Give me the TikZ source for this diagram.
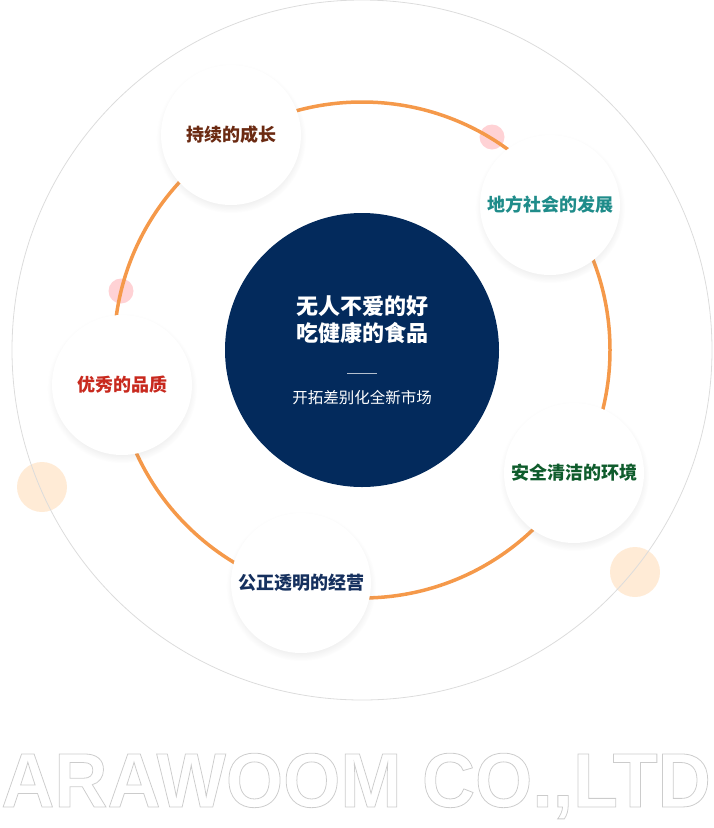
\documentclass[tikz,border=0pt]{standalone}
\usepackage{fontspec}
\setmainfont{Liberation Sans}
\newfontfamily\cjk{Noto Sans CJK SC}
\newfontfamily\logofont{Liberation Sans}
\usepackage{xcolor}
\definecolor{cNavy}{HTML}{032A5C}
\definecolor{cOrange}{HTML}{F5994A}
\definecolor{cRing}{HTML}{DCDCDC}
\definecolor{cPink}{HTML}{FFD2D5}
\definecolor{cPeach}{HTML}{FFEBD6}
\definecolor{cBrown}{HTML}{6B2A12}
\definecolor{cTeal}{HTML}{1F8C8A}
\definecolor{cRed}{HTML}{C8291E}
\definecolor{cGreen}{HTML}{0F5C2C}
\definecolor{cBlue}{HTML}{15305E}
\usetikzlibrary{shadows}
\tikzset{
  node-hub/.style={circle,fill=cNavy,minimum size=274pt,inner sep=0pt,
    align=center,text=white},
  node-value/.style={circle,fill=white,minimum size=140pt,inner sep=0pt,
    align=center,font=\cjk\bfseries\fontsize{18}{21}\selectfont,
    circular drop shadow={shadow xshift=0pt,shadow yshift=-3pt,
      shadow scale=1.07,opacity=.15}},
  dot-pink/.style={circle,fill=cPink,minimum size=25pt,inner sep=0pt},
  dot-peach/.style={circle,fill=cPeach,minimum size=50pt,inner sep=0pt},
  ring-outer/.style={draw=cRing,line width=.8pt},
  ring-path/.style={draw=cOrange,line width=3.5pt},
}
\newcommand{\outlinetext}[1]{%
  \special{pdf:literal direct 1 Tr 0.8 w 0.8 0.8 0.8 RG}#1%
  \special{pdf:literal direct 0 Tr}}

\begin{document}
\begin{tikzpicture}[x=1pt,y=-1pt]
  \useasboundingbox (0,0) rectangle (713,828);
  % 外圈与装饰点
  \coordinate (c) at (362,350);
  \node[dot-peach] (p1) at (42,487) {};
  \node[dot-peach] (p2) at (635,572) {};
  \draw[ring-outer] (c) circle[radius=350pt];
  \node[dot-pink] (k1) at (492,137) {};
  \node[dot-pink] (k2) at (121,291) {};
  \draw[ring-path] (c) circle[radius=248pt];
  % 中心
  \node[node-hub,font=\cjk\bfseries\fontsize{22}{27}\selectfont] (hub) at (c) {%
    无人不爱的好\\ 吃健康的食品\\[5pt]
    \textcolor{white!70!cNavy}{\rule{30pt}{.6pt}}\\[3pt]
    \mdseries\fontsize{15.5}{18}\selectfont 开拓差别化全新市场};
  % 五个价值
  \node[node-value,text=cBrown] (grow) at (231,135) {持续的成长};
  \node[node-value,text=cTeal]  (local) at (550,205) {地方社会的发展};
  \node[node-value,text=cRed]   (qual) at (122,385) {优秀的品质};
  \node[node-value,text=cGreen] (env) at (574,473) {安全清洁的环境};
  \node[node-value,text=cBlue]  (fair) at (301,583) {公正透明的经营};
  % 底部字标
  \node[inner sep=0pt,font=\logofont\bfseries\fontsize{77}{77}\selectfont]
    (logo) at (356,786) {\scalebox{0.955}[1]{\outlinetext{ARAWOOM CO.,LTD}}};
\end{tikzpicture}
\end{document}
